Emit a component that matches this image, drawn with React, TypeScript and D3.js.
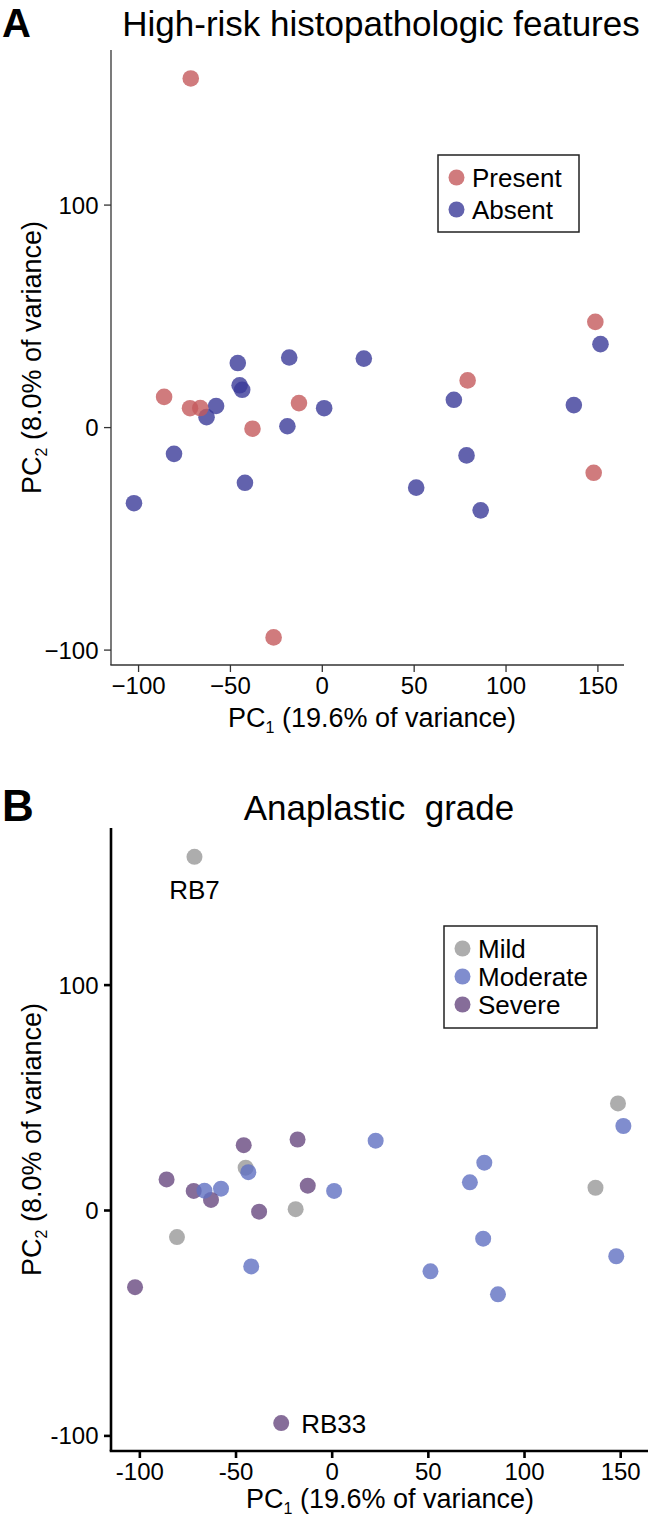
import React from 'react';
import * as d3 from 'd3';

// PCA scores (one entry per tumour)
const pc1 = [
  -46, -18, 22.6, -45, -43.6, -57.8, -63, 1, -19, 71.6, 136.9, 151.4, -80.7, 78.5,
  -42.1, 51.1, 86.2, -102.5, -86.1, -72, -66.4, -12.7, -38, 79.1, 147.7, -71.6, 148.6, -26.5,
];
const pc2 = [
  29, 31.5, 31, 19, 17, 9.7, 4.7, 8.7, 0.6, 12.5, 10.1, 37.5, -11.8, -12.5,
  -24.8, -27, -37.2, -34, 13.8, 8.7, 8.8, 11, -0.5, 21.2, -20.3, 156.9, 47.5, -94.3,
];
const highRisk = [
  'Absent', 'Absent', 'Absent', 'Absent', 'Absent', 'Absent', 'Absent', 'Absent', 'Absent', 'Absent',
  'Absent', 'Absent', 'Absent', 'Absent', 'Absent', 'Absent', 'Absent', 'Absent',
  'Present', 'Present', 'Present', 'Present', 'Present', 'Present', 'Present', 'Present', 'Present', 'Present',
];
const grade = [
  'Severe', 'Severe', 'Moderate', 'Mild', 'Moderate', 'Moderate', 'Severe', 'Moderate', 'Mild', 'Moderate',
  'Mild', 'Moderate', 'Mild', 'Moderate', 'Moderate', 'Moderate', 'Moderate', 'Severe',
  'Severe', 'Severe', 'Moderate', 'Severe', 'Severe', 'Moderate', 'Moderate', 'Mild', 'Mild', 'Severe',
];
const sampleLabels = [
  '', '', '', '', '', '', '', '', '', '', '', '', '', '', '', '', '', '',
  '', '', '', '', '', '', '', 'RB7', '', 'RB33',
];

const riskLevels = ['Present', 'Absent'];
const riskColors = ['#c45a5d', '#3b3b98'];
const gradeLevels = ['Mild', 'Moderate', 'Severe'];
const gradeColors = ['#999999', '#6070c2', '#68487f'];

const xTicks = [-100, -50, 0, 50, 100, 150];
const yTicks = [-100, 0, 100];
const xDomain = [-115, 164.2];
const yDomain = [-106.7, 169.7];

const FONT = '"Liberation Sans", Arial, Helvetica, sans-serif';

const Panel = ({ letter, letterSize, title, titleX, titleY, box, groups, levels, colors, minus, axisW, axisColor, r, legend, xLabelX, xLabelDy, labelled }) => {
  const x = d3.scaleLinear().domain(xDomain).range([box.left, box.right]);
  const y = d3.scaleLinear().domain(yDomain).range([box.bottom, box.top]);
  const color = d3.scaleOrdinal().domain(levels).range(colors);
  const fmt = (v) => (v < 0 ? minus + Math.abs(v) : String(v));
  const yMid = (box.top + box.bottom) / 2;

  return (
    <g fontFamily={FONT}>
      <text x={2} y={titleY + 1} fontSize={letterSize} fontWeight="bold">{letter}</text>
      <text x={titleX} y={titleY} fontSize={35} textAnchor="middle" style={{ whiteSpace: 'pre' }}>{title}</text>

      {/* axes */}
      <line x1={box.left} x2={box.left} y1={box.top} y2={box.bottom} stroke={axisColor} strokeWidth={axisW} />
      <line x1={box.left - axisW / 2} x2={box.right} y1={box.bottom} y2={box.bottom} stroke={axisColor} strokeWidth={axisW} />
      {xTicks.map((t) => (
        <g key={'x' + t}>
          <line x1={x(t)} x2={x(t)} y1={box.bottom} y2={box.bottom + 7} stroke={axisColor} strokeWidth={axisW} />
          <text x={x(t)} y={box.bottom + 28.5} fontSize={24} textAnchor="middle">{fmt(t)}</text>
        </g>
      ))}
      {yTicks.map((t) => (
        <g key={'y' + t}>
          <line x1={box.left - 7} x2={box.left} y1={y(t)} y2={y(t)} stroke={axisColor} strokeWidth={axisW} />
          <text x={box.left - 12.5} y={y(t) + 8.5} fontSize={24} textAnchor="end">{fmt(t)}</text>
        </g>
      ))}

      {/* axis titles */}
      <text x={xLabelX} y={box.bottom + xLabelDy} fontSize={27} textAnchor="middle">
        <tspan>PC</tspan>
        <tspan fontSize={16} dy={6}>1</tspan>
        <tspan dy={-6}> (19.6% of variance)</tspan>
      </text>
      <text transform={`translate(41,${yMid}) rotate(-90)`} fontSize={27} textAnchor="middle">
        <tspan>PC</tspan>
        <tspan fontSize={16} dy={6}>2</tspan>
        <tspan dy={-6}> (8.0% of variance)</tspan>
      </text>

      {/* points */}
      {pc1.map((v, i) => (
        <circle key={i} cx={x(v)} cy={y(pc2[i])} r={r} fill={color(groups[i])} fillOpacity={0.8} />
      ))}

      {labelled && sampleLabels.map((s, i) => {
        if (!s) return null;
        if (pc2[i] > 100) {
          return <text key={'l' + i} x={x(pc1[i])} y={y(pc2[i]) + 42} fontSize={26} textAnchor="middle">{s}</text>;
        }
        return <text key={'l' + i} x={x(pc1[i]) + 20} y={y(pc2[i]) + 9.5} fontSize={26}>{s}</text>;
      })}

      {/* legend */}
      <rect x={legend.x} y={legend.y} width={legend.w} height={legend.h} fill="white" stroke="#222" strokeWidth={1.5} />
      {levels.map((lv, i) => (
        <g key={lv}>
          <circle cx={legend.x + 18.5} cy={legend.y + 22.5 + i * legend.step} r={8} fill={color(lv)} fillOpacity={0.8} />
          <text x={legend.x + 34} y={legend.y + 22.5 + i * legend.step + 9.3} fontSize={26}>{lv}</text>
        </g>
      ))}
    </g>
  );
};

export default function App() {
  return (
    <div style={{ position: 'absolute', left: 0, top: 0 }}>
      <svg width={664} height={1519} viewBox="0 0 664 1519" style={{ display: 'block', background: 'white' }}>
        <Panel
          letter="A"
          letterSize={40}
          title="High-risk histopathologic features"
          titleX={381}
          titleY={36}
          box={{ left: 111, right: 624, top: 50, bottom: 665 }}
          groups={highRisk}
          levels={riskLevels}
          colors={riskColors}
          minus={'\u2212'}
          axisW={1.3}
          axisColor="#333"
          r={8.3}
          legend={{ x: 438, y: 155, w: 141, h: 77, step: 32 }}
          xLabelX={372}
          xLabelDy={62}
          labelled={false}
        />
        <Panel
          letter="B"
          letterSize={44}
          title={'Anaplastic  grade'}
          titleX={379}
          titleY={820}
          box={{ left: 111, right: 648, top: 828, bottom: 1451 }}
          groups={grade}
          levels={gradeLevels}
          colors={gradeColors}
          minus="-"
          axisW={2.6}
          axisColor="#000"
          r={8}
          legend={{ x: 444, y: 926, w: 153, h: 102, step: 28 }}
          xLabelX={390}
          xLabelDy={57}
          labelled={true}
        />
      </svg>
    </div>
  );
}
